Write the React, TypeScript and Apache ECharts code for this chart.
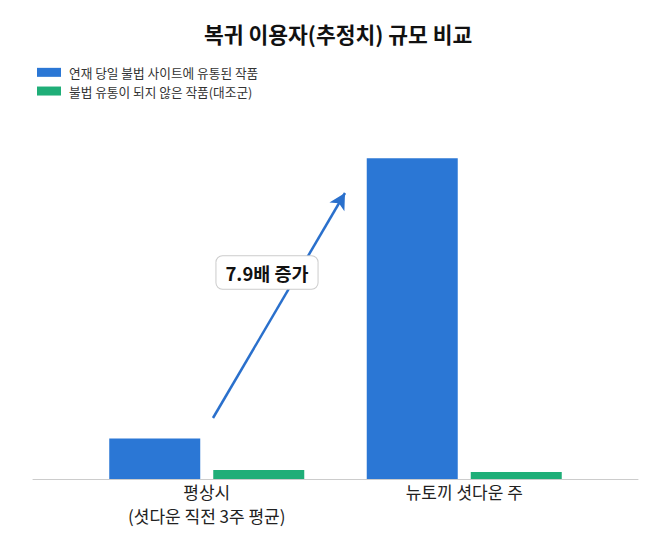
import React, { useEffect, useRef } from 'react';
import * as echarts from 'echarts';

// 카테고리와 값 (그림에서 읽은 상대값, 평상시 = 100)
const categories = ['평상시\n(셧다운 직전 3주 평균)', '뉴토끼 셧다운 주'];
const seriesNames = ['연재 당일 불법 사이트에 유통된 작품', '불법 유통이 되지 않은 작품(대조군)'];
const pirated = [100, 790];
const control = [22, 17];
const annotation = '7.9배 증가';

const FONT = '"Noto Sans CJK KR", "Noto Sans", sans-serif';

const App: React.FC = () => {
  const chartRef = useRef<HTMLDivElement>(null);

  useEffect(() => {
    document.body.style.margin = '0';
    if (!chartRef.current) return;
    const chart = echarts.init(chartRef.current, undefined, { renderer: 'svg' });

    const option = {
      animation: false,
      backgroundColor: '#ffffff',
      textStyle: { fontFamily: FONT },
      title: {
        text: '복귀 이용자(추정치) 규모 비교',
        left: 199,
        top: 18,
        textStyle: { fontFamily: FONT, fontSize: 21.5, fontWeight: 'bold', color: '#111' },
      },
      legend: {
        orient: 'vertical',
        left: 32,
        top: 61,
        itemWidth: 24,
        itemHeight: 9,
        itemGap: 6,
        icon: 'rect',
        data: seriesNames,
        textStyle: { fontFamily: FONT, fontSize: 12.7, color: '#333', padding: [0, 0, 0, 3] },
      },
      grid: [
        { left: 78, width: 515, top: 73, bottom: 70 },
        { left: 33, right: 20, top: 73, bottom: 70 },
      ],
      xAxis: [
        {
          type: 'category',
          gridIndex: 0,
          data: categories,
          axisLine: { show: false },
          axisTick: { show: false },
          axisLabel: { fontFamily: FONT, fontSize: 17, color: '#222', lineHeight: 24, margin: 0 },
        },
        {
          type: 'category',
          gridIndex: 1,
          data: [''],
          axisLine: { show: true, lineStyle: { color: '#cccccc', width: 1 } },
          axisTick: { show: false },
          axisLabel: { show: false },
        },
      ],
      yAxis: [
        { type: 'value', gridIndex: 0, min: 0, max: 1000, show: false },
        { type: 'value', gridIndex: 1, min: 0, max: 1000, show: false },
      ],
      series: [
        {
          name: seriesNames[0],
          type: 'bar',
          xAxisIndex: 0,
          yAxisIndex: 0,
          data: pirated,
          barWidth: 91,
          barGap: '14.3%',
          itemStyle: { color: '#2b77d5' },
          markLine: {
            silent: true,
            symbol: ['none', 'arrow'],
            symbolSize: [13, 16],
            label: { show: false },
            lineStyle: { color: '#2a70cc', width: 2.5, type: 'solid' },
            data: [[{ x: 213, y: 418 }, { x: 345, y: 193 }]],
          },
        },
        {
          name: seriesNames[1],
          type: 'bar',
          xAxisIndex: 0,
          yAxisIndex: 0,
          data: control,
          barWidth: 91,
          itemStyle: { color: '#1fae78' },
        },
      ],
      graphic: [
        {
          type: 'text',
          x: 267,
          y: 272.5,
          z: 100,
          style: {
            text: annotation,
            font: `bold 18.5px ${FONT}`,
            fill: '#111',
            align: 'center',
            verticalAlign: 'middle',
            backgroundColor: '#ffffff',
            borderColor: '#cccccc',
            borderWidth: 1,
            borderRadius: 6,
            padding: [7, 9],
          },
        },
      ],
    };

    chart.setOption(option);
    return () => {
      chart.dispose();
    };
  }, []);

  return <div ref={chartRef} style={{ width: 658, height: 549 }} />;
};

export default App;
